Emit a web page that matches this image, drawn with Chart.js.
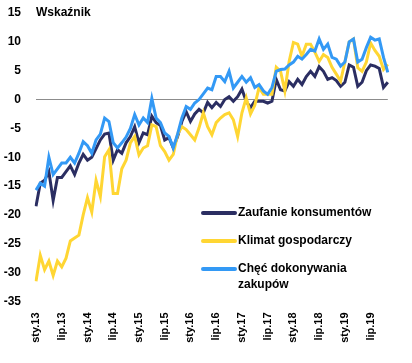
<!DOCTYPE html>
<html lang="pl">
<head>
<meta charset="utf-8">
<script src="https://cdn.jsdelivr.net/npm/chart.js@4/dist/chart.umd.min.js"></script>
<style>
  html, body { margin: 0; padding: 0; background: #fff; }
  #wrap { width: 412px; height: 363px; position: relative; }
</style>
</head>
<body>
<div id="wrap"><canvas id="wykres"></canvas></div>
<script>
// miesiące od sty.13 do lis.19
const miesiace = ['sty', 'lut', 'mar', 'kwi', 'maj', 'cze', 'lip', 'sie', 'wrz', 'paź', 'lis', 'gru'];
const lata = ['13', '14', '15', '16', '17', '18', '19'];
const liczbaMiesiecy = 83;

const zaufanie = [
  -18.5, -14.5, -14, -12.5, -17.5, -13.5, -13.5, -12.5, -11.5, -13, -11, -9.5,
  -10.5, -10, -8.5, -7, -6, -5.8, -10.5, -8.7, -9.3, -7.5, -6.4, -4.7,
  -7.5, -5.8, -6.1, -2.9, -4, -4.5, -7, -6.6, -8.4, -6.4, -3.8, -2.1,
  -3.8, -2.5, -1.7, -2.3, -0.5, -1.4, -0.5, -1.2, 0, 0.5, -0.3, 0.5,
  1.8, -0.3, -1.4, -0.3, -0.3, -0.3, -0.6, -0.3, 3.5, 1.7, 1.5, 3.1,
  2.3, 3.5, 2.6, 4, 4.9, 4, 5.7, 4.9, 3.5, 3.8, 3.3, 2.3,
  3, 6, 5.6, 2.3, 3, 5, 6, 5.8, 5.4, 2.1, 3
];

const klimat = [
  -31.5, -27, -29.5, -28, -30.5, -28, -29, -27.5, -24.5, -24, -23.5, -20,
  -17, -19.5, -14, -16.8, -9.9, -8.7, -16.3, -16.3, -12, -10.5, -7.5, -6.4,
  -9.6, -8.4, -8, -4.4, -4.7, -8, -9, -10.5, -9.5, -6, -4.7, -5.2,
  -6.1, -7, -4.9, -2.3, -4.7, -6.1, -4, -3.2, -2.6, -2.3, -3.5, -6.4,
  -2.3, 0.3, -2.5, -1, 2.1, 0.9, 0.9, 0.9, 5.6, 4.9, 1.5, 6.6,
  9.9, 9.6, 7.5, 9.6, 9.6, 8.2, 6.6, 7.8, 7.3, 5.6, 4.4, 3.2,
  6.5, 10, 10.5, 5.5, 4.9, 6.5, 9.8, 8.5, 7.5, 5.2, 6.1
];

const checZakupow = [
  -15.7, -14.5, -15, -10, -13, -12, -11, -11, -10, -11, -9.3, -7.3,
  -8, -9.3, -7, -6, -3.2, -3.8, -7.5, -8.4, -7.5, -6.5, -5, -2.6,
  -4.4, -3.2, -4, 0.2, -3.2, -4, -5.8, -6.4, -8.4, -6, -3.2, -1.2,
  -1.7, -0.6, 0, 1, 2, 1.7, 4, 4, 3.1, 4.9, 2, 3,
  4, 3, 3.8, 2.1, 2.6, 1.5, 0.9, 2.1, 4.9, 5.2, 5.3, 6,
  6.5, 7.5, 7, 7.8, 8.7, 8.4, 10.5, 8.7, 9.6, 7.3, 7, 5.8,
  6.5, 10, 10.5, 6.5, 7, 9, 10.8, 10.3, 10.5, 7.3, 4.7
];

const nazwySerii = ['Zaufanie konsumentów', 'Klimat gospodarczy', 'Chęć dokonywania zakupów'];
const legendaLinie = [['Zaufanie konsumentów'], ['Klimat gospodarczy'], ['Chęć dokonywania', 'zakupów']];
const kolory = ['#2B2E62', '#FFD633', '#3399F5'];

const etykiety = [];
for (let i = 0; i < liczbaMiesiecy; i++) {
  etykiety.push(miesiace[i % 12] + '.' + lata[Math.floor(i / 12)]);
}

const czcionka = "'Liberation Sans', Arial, sans-serif";

// tytuł osi i legenda rysowane ręcznie
const dodatki = {
  id: 'dodatki',
  afterDraw(chart) {
    const ctx = chart.ctx;
    ctx.save();
    ctx.fillStyle = '#000';
    ctx.font = 'bold 12px ' + czcionka;
    ctx.textBaseline = 'middle';
    ctx.textAlign = 'left';
    ctx.fillText('Wskaźnik', 36, 13);

    const wiersze = [213, 241, 269];
    legendaLinie.forEach((linie, i) => {
      const y = wiersze[i];
      ctx.strokeStyle = kolory[i];
      ctx.lineWidth = 4;
      ctx.lineCap = 'round';
      ctx.beginPath();
      ctx.moveTo(203, y);
      ctx.lineTo(235, y);
      ctx.stroke();
      linie.forEach((t, j) => {
        ctx.fillText(t, 238, y + j * 16);
      });
    });
    ctx.restore();
  }
};

new Chart(document.getElementById('wykres'), {
  type: 'line',
  data: {
    labels: etykiety,
    datasets: [zaufanie, klimat, checZakupow].map((d, i) => ({
      label: nazwySerii[i],
      data: d,
      borderColor: kolory[i],
      backgroundColor: kolory[i],
      borderWidth: 3,
      pointRadius: 0,
      tension: 0,
      order: 3 - i
    }))
  },
  options: {
    responsive: true,
    maintainAspectRatio: false,
    animation: false,
    layout: { padding: { top: 13, right: 15, bottom: 0, left: 0 } },
    plugins: {
      legend: { display: false },
      tooltip: { enabled: false }
    },
    scales: {
      x: {
        offset: false,
        afterFit(s) { s.height = 61.5; },
        grid: { display: false, drawTicks: false },
        border: { display: false },
        ticks: {
          autoSkip: false,
          minRotation: 90,
          maxRotation: 90,
          padding: 11,
          color: '#000',
          font: { family: czcionka, size: 11, weight: 'bold' },
          callback(v, i) { return i % 6 === 0 ? etykiety[i] : ''; }
        }
      },
      y: {
        min: -35,
        max: 15,
        afterFit(s) {
          s.width = 36;
          s.paddingTop = 7;
          s.paddingBottom = 7;
        },
        grid: {
          drawTicks: false,
          color: ctx => ctx.tick && ctx.tick.value === 0 ? '#8C8C8C' : 'rgba(0,0,0,0)',
          lineWidth: 1
        },
        border: { display: false },
        ticks: {
          stepSize: 5,
          padding: 15,
          color: '#000',
          font: { family: czcionka, size: 12, weight: 'bold' }
        }
      }
    }
  },
  plugins: [dodatki]
});
</script>
</body>
</html>
